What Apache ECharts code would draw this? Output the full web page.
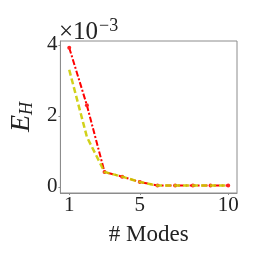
<!DOCTYPE html>
<html><head><meta charset="utf-8">
<script src="https://cdn.jsdelivr.net/npm/echarts@6/dist/echarts.min.js"></script>
<style>html,body{margin:0;padding:0;background:#fff}#c{width:262px;height:262px}</style>
</head><body><div id="c"></div>
<script>
// values in units of 1e-3
var modes = [1,2,3,4,5,6,7,8,9,10];
var redVals = [3.92, 2.30, 0.42, 0.29, 0.14, 0.04, 0.04, 0.04, 0.04, 0.04];
var yellowVals = [3.30, 1.41, 0.42, 0.29, 0.14, 0.04, 0.04, 0.04, 0.04, 0.04];
var xTicks = [1, 5, 10];
var yTicks = [0, 2, 4];

var font = 'Liberation Serif';
var chart = echarts.init(document.getElementById('c'), null, {renderer:'canvas'});
function pairs(v){ return modes.map(function(m,i){ return [m, v[i]]; }); }
chart.setOption({
  animation:false,
  grid:{left:59, right:25, top:41, bottom:69, show:true, borderColor:'#8c8c8c', borderWidth:1},
  xAxis:{type:'value', min:0.5, max:10.5,
    name:'# Modes', nameLocation:'middle', nameGap:30,
    nameTextStyle:{fontFamily:font, fontSize:23, color:'#222'},
    axisLine:{show:true, onZero:false, lineStyle:{color:'#8c8c8c'}},
    axisTick:{show:true, length:2, customValues:xTicks, lineStyle:{color:'#8c8c8c'}},
    axisLabel:{customValues:xTicks, fontFamily:font, fontSize:21, color:'#222', margin:2},
    splitLine:{show:false}},
  yAxis:{type:'value', min:-0.17, max:4.11,
    name:'{e|E}{h|H}', nameLocation:'middle', nameGap:23, nameRotate:90,
    nameTextStyle:{rich:{e:{fontFamily:font, fontStyle:'italic', fontSize:28, color:'#222'},
                         h:{fontFamily:font, fontStyle:'italic', fontSize:18, color:'#222', padding:[10,0,0,0]}}},
    axisLine:{show:true, onZero:false, lineStyle:{color:'#8c8c8c'}},
    axisTick:{show:true, length:2, customValues:yTicks, lineStyle:{color:'#8c8c8c'}},
    axisLabel:{customValues:yTicks, fontFamily:font, fontSize:21, color:'#222', margin:3},
    splitLine:{show:false}},
  graphic:[{type:'text', left:59, top:17, style:{
    text:'{a|×10}{b|−3}', rich:{a:{fontFamily:font, fontSize:25, fill:'#222'}, b:{fontFamily:font, fontSize:18, fill:'#222', padding:[0,0,12,1]}}}}],
  series:[
    {type:'line', data:pairs(redVals), symbol:'circle', symbolSize:4,
     itemStyle:{color:'#ff2020'}, lineStyle:{color:'#ff0000', width:2, type:[6,2,2,2]}, z:2},
    {type:'line', data:pairs(yellowVals), symbol:'none',
     lineStyle:{color:'#cccc00', width:2.5, type:[6,3], opacity:0.9}, z:3}
  ]
});
</script></body></html>
